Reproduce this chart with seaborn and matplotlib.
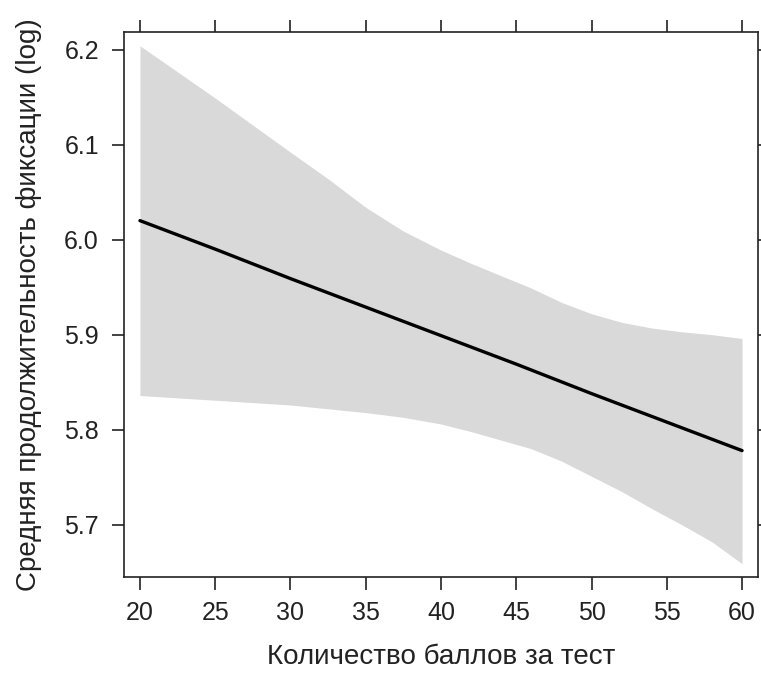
import matplotlib
matplotlib.use("Agg")
import matplotlib.pyplot as plt
import seaborn as sns
import pandas as pd

# Data
score = [20, 25, 30, 35, 40, 45, 50, 55, 60]
fit = [6.020, 5.990, 5.959, 5.929, 5.899, 5.869, 5.838, 5.808, 5.778]
band_x = [20, 25, 30, 32.5, 35, 37.5, 40, 42, 44, 46, 48, 50, 52, 54, 56, 58, 60]
upper = [6.204, 6.149, 6.092, 6.064, 6.034, 6.009, 5.989, 5.975, 5.962, 5.949,
         5.934, 5.922, 5.913, 5.907, 5.903, 5.900, 5.896]
lower = [5.836, 5.831, 5.826, 5.822, 5.818, 5.813, 5.806, 5.798, 5.789, 5.780,
         5.767, 5.751, 5.735, 5.717, 5.700, 5.682, 5.659]
xticks = [20, 25, 30, 35, 40, 45, 50, 55, 60]
yticks = [5.7, 5.8, 5.9, 6.0, 6.1, 6.2]
xlabel = "Количество баллов за тест"
ylabel = "Средняя продолжительность фиксации (log)"

line_df = pd.DataFrame({"score": score, "fit": fit})
band_df = pd.DataFrame({"score": band_x, "upper": upper, "lower": lower})

sns.set_theme(style="white")
plt.rcParams["font.family"] = ["Liberation Sans", "DejaVu Sans"]

ink = "#222222"
fig = plt.figure(figsize=(7.61, 6.8), dpi=100)
ax = fig.add_axes([124/761, 1-577/680, (758-124)/761, (577-32)/680])

ax.fill_between(band_df["score"], band_df["lower"], band_df["upper"],
                color="#d9d9d9", linewidth=0)
sns.lineplot(data=line_df, x="score", y="fit", color="black", linewidth=2.4, ax=ax)

ax.set_xlim(18.94, 61.06)
ax.set_ylim(5.645, 6.2185)
ax.set_xticks(xticks)
ax.set_yticks(yticks)
ax.set_xticklabels([str(v) for v in xticks])
ax.set_yticklabels([f"{v:.1f}" for v in yticks])

for s in ax.spines.values():
    s.set_color(ink)
    s.set_linewidth(1.2)

ax.tick_params(axis="both", which="both", labelsize=18, colors=ink, labelcolor=ink)
ax.tick_params(axis="x", bottom=True, top=True, direction="out", length=9, width=1.2,
               pad=8, labeltop=False)
ax.tick_params(axis="y", left=True, right=False, direction="out", length=9, width=1.2,
               pad=9, labelright=False)

sec = ax.secondary_yaxis("right")
sec.set_yticks(yticks)
sec.tick_params(axis="y", direction="out", length=2.5, width=1.2, colors=ink, labelright=False)
sec.spines["right"].set_visible(False)

ax.set_xlabel(xlabel, fontsize=20, color=ink, labelpad=14)
ax.set_ylabel(ylabel, fontsize=20, color=ink, labelpad=16)

fig.savefig("out.png", dpi=100)
